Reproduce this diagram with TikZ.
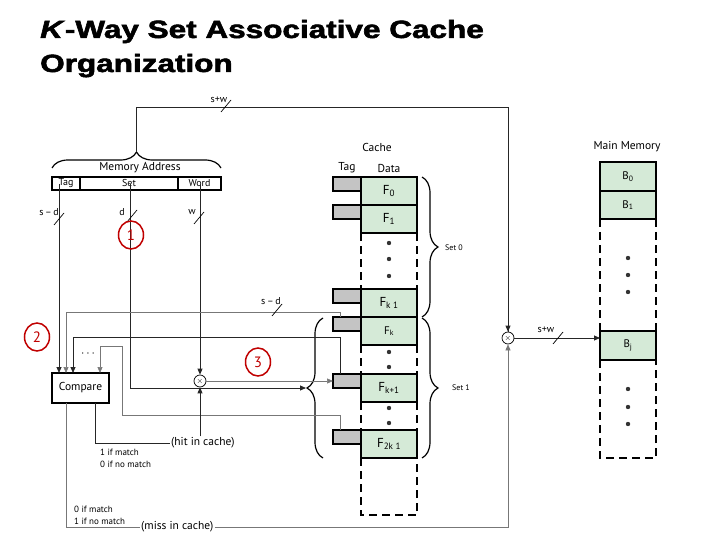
\documentclass[tikz,border=0pt]{standalone}
\usepackage{fontspec}
\usepackage{graphicx}
\setmainfont{PT Sans}
\newfontfamily\titlefont[BoldFeatures={FakeBold=2},BoldItalicFeatures={FakeBold=2}]{Liberation Sans}
\usetikzlibrary{arrows.meta,decorations.pathreplacing,shapes.geometric}
\definecolor{cgreen}{HTML}{D5EAD7}
\definecolor{tgray}{HTML}{C4C4C4}
\definecolor{wgray}{HTML}{777777}
\definecolor{cred}{HTML}{C00000}
\begin{document}
\begin{tikzpicture}[x=1pt,y=-1pt,
  >={Triangle[length=6pt,width=5pt]},
  wire/.style={line width=0.8pt, black!85},
  gwire/.style={line width=0.6pt, wgray},
  thickbox/.style={draw, line width=1.6pt, inner sep=0pt, outer sep=0pt},
  datacell/.style={thickbox, fill=cgreen, minimum width=56pt, minimum height=28pt, anchor=north west, font=\fontsize{13}{13}\selectfont},
  tagcell/.style={draw, line width=1.2pt, fill=tgray, minimum width=28pt, minimum height=14pt, anchor=north west, inner sep=0pt, outer sep=0pt},
  dsides/.style={line width=1.6pt, dash pattern=on 8pt off 5pt},
  lbl/.style={font=\fontsize{11.5}{12}\selectfont, inner sep=0pt},
  mid/.style={font=\fontsize{10}{11}\selectfont, inner sep=0pt},
  small/.style={font=\fontsize{9}{10}\selectfont, inner sep=0pt},
  buslbl/.style={font=\fontsize{10}{10}\selectfont, inner sep=0pt},
  tiny/.style={font=\fontsize{8}{9}\selectfont, inner sep=0pt},
  mult/.style={circle, draw, line width=0.7pt, minimum size=12pt, inner sep=0pt},
  redc/.style={ellipse, draw=cred, line width=1.5pt, text=cred, minimum width=25pt, minimum height=28pt, inner sep=0pt, font=\fontsize{15}{15}\selectfont},
  brc/.style={decorate, decoration={brace, amplitude=16pt}, line width=1.2pt},
  bus/.pic={\draw[line width=0.7pt] (-5,6) -- (5,-6);},
  dotm/.style={fill=black!80}
]
\useasboundingbox (0,0) rectangle (720,540);

% title
\node[anchor=base west, inner sep=0pt] (title1) at (40,38)
  {\scalebox{1.26}[1]{\titlefont\bfseries\fontsize{25}{25}\selectfont\textit{K}-Way Set Associative Cache}};
\node[anchor=base west, inner sep=0pt] (title2) at (40,72)
  {\scalebox{1.26}[1]{\titlefont\bfseries\fontsize{25}{25}\selectfont Organization}};

% memory address
\node[thickbox, minimum width=28pt, minimum height=13pt, anchor=north west, mid] (mtag) at (52,177) {Tag};
\node[thickbox, minimum width=98pt, minimum height=13pt, anchor=north west, mid] (mset) at (80,177) {Set};
\node[thickbox, minimum width=43pt, minimum height=13pt, anchor=north west, mid] (mword) at (178,177) {Word};
\node[lbl] (maddr) at (140,168) {Memory Address};
\draw[brc] (52,168) -- (221,168);
\coordinate (btip) at (136.5,151);
\coordinate (tagout) at (59,184);
\coordinate (setout) at (130,184);
\coordinate (wordout) at (200,184);

% cache
\node[lbl] (cachel) at (377,147) {Cache};
\node[lbl] (ctagl) at (347,168) {Tag};
\node[lbl] (cdatal) at (389,168) {Data};
\node[datacell] (f0) at (361,177) {F\textsubscript{0}};
\node[datacell] (f1) at (361,205) {F\textsubscript{1}};
\node[datacell] (fkm) at (361,289) {F\textsubscript{k 1}};
\node[datacell] (fk) at (361,317) {\fontsize{11}{11}\selectfont F\textsubscript{k}};
\node[datacell] (fkp) at (361,374) {F\textsubscript{k+1}};
\node[datacell] (f2k) at (361,430) {F\textsubscript{2k 1}};
\node[tagcell] (t0) at (333,177) {};
\node[tagcell] (t1) at (333,205) {};
\node[tagcell] (tkm) at (333,289) {};
\node[tagcell] (tk) at (333,317) {};
\node[tagcell] (tkp) at (333,374) {};
\node[tagcell] (t2k) at (333,430) {};
\draw[dsides] (f1.south west) -- (fkm.north west);
\draw[dsides] (f1.south east) -- (fkm.north east);
\draw[dsides] (fk.south west) -- (fkp.north west);
\draw[dsides] (fk.south east) -- (fkp.north east);
\draw[dsides] (fkp.south west) -- (f2k.north west);
\draw[dsides] (fkp.south east) -- (f2k.north east);
\draw[dsides] (f2k.south west) -- (361,515) -- (417,515) -- (f2k.south east);
\foreach \yy in {243,259,276,352,367,408,423} \fill[dotm] (389,\yy) circle (2.2);

% braces of sets
\draw[brc] (422,177) -- (422,317);
\draw[brc] (422,318) -- (422,458);
\node[tiny, anchor=west] (set0) at (445,248) {Set 0};
\node[tiny, anchor=west] (set1) at (452,388) {Set 1};
\draw[brc] (323,458) -- (323,318);
\coordinate (lbtip) at (306,388);

% main memory
\node[lbl] (mml) at (627,147) {Main Memory};
\node[datacell, minimum height=29pt, font=\fontsize{11}{11}\selectfont] (b0) at (600,162) {B\textsubscript{0}};
\node[datacell, font=\fontsize{11}{11}\selectfont] (b1) at (600,191) {B\textsubscript{1}};
\node[datacell, minimum height=29pt, font=\fontsize{11}{11}\selectfont] (bj) at (600,331) {B\textsubscript{j}};
\draw[dsides] (b1.south west) -- (bj.north west);
\draw[dsides] (b1.south east) -- (bj.north east);
\draw[dsides] (bj.south west) -- (600,458) -- (656,458) -- (bj.south east);
\foreach \yy in {258,275,292,389,407,424} \fill[dotm] (628,\yy) circle (2.2);

% compare and multiplexers
\node[thickbox, minimum width=57pt, minimum height=30pt, anchor=north west, lbl] (cmp) at (52,373) {Compare};
\coordinate (cin1) at (59,373);
\coordinate (cin2) at (66,373);
\coordinate (cin3) at (73,373);
\coordinate (cin4) at (100,373);
\coordinate (cmiss) at (66,403);
\coordinate (chit) at (95,403);
\node[font=\fontsize{12}{12}\selectfont, inner sep=0pt] (cdots) at (88,354) {$\cdots$};
\node[mult] (x1) at (200,381) {\fontsize{8}{8}\selectfont$\times$};
\node[mult] (x2) at (508,338) {\fontsize{8}{8}\selectfont$\times$};

% top address path
\draw[wire] (btip) |- (508,107) -- (x2);
\draw[wire,->] (508,320) -- (x2);
\pic at (226,106) {bus};
\node[buslbl] (sw1) at (219,100) {s+w};

% address fields
\draw[wire,->] (tagout) -- (cin1);
\draw[wire,->] (setout) |- (lbtip);
\draw[wire,->] (wordout) -- (x1);
\pic at (59,219) {bus};
\pic at (132,216) {bus};
\pic at (199,218) {bus};
\node[buslbl, anchor=east] (lsd) at (59,212) {s\,–\,d};
\node[buslbl, anchor=east] (ld) at (125,212) {d};
\node[buslbl, anchor=east] (lw) at (196,212) {w};

% tag lines to compare
\draw[gwire,->] ([xshift=7pt]tk.north west) -- ++(0,-5) -| (cin2);
\draw[wire,->] ([xshift=7pt]tkp.north west) -- ++(0,-37) -| (cin3);
\draw[gwire,->] ([xshift=7pt]t2k.north west) -- ++(0,-15) -| (122,346) -| (cin4);
\pic at (277,310) {bus};
\node[buslbl] (lsd2) at (271,301) {s\,–\,d};

% mux 1 output to tag
\draw[gwire,->] (x1.east) -- (x1.east -| tkp.west);

% hit / miss
\node[lbl, anchor=west, inner sep=1pt] (hit) at (170,443) {(hit in cache)};
\draw[wire] (chit) |- (hit.west);
\draw[wire,->] (x1 |- hit.north) -- (x1);
\node[small, anchor=west] (m1) at (100,452) {1 if match};
\node[small, anchor=west] (m2) at (100,464) {0 if no match};
\node[lbl, anchor=west, inner sep=1pt] (miss) at (140,527) {(miss in cache)};
\draw[gwire] (cmiss) |- (miss.west);
\draw[gwire,->] (miss.east) -| (x2);
\node[small, anchor=west] (m3) at (74,509) {0 if match};
\node[small, anchor=west] (m4) at (74,521) {1 if no match};

% to main memory
\draw[wire,->] (x2) -- (x2 -| bj.west);
\pic at (558,338) {bus};
\node[buslbl] (sw2) at (546,330) {s+w};

% red markers
\node[redc] (r1) at (131,235) {1};
\node[redc] (r2) at (37,337) {2};
\node[redc] (r3) at (258,362) {3};
\end{tikzpicture}
\end{document}
